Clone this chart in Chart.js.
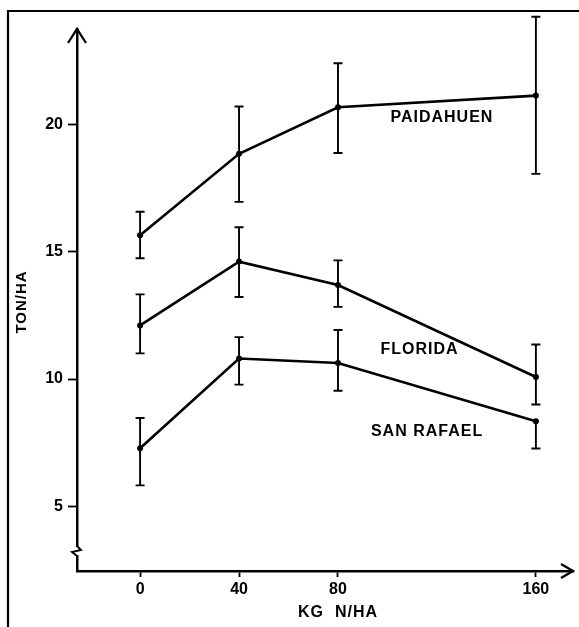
<!DOCTYPE html>
<html>
<head>
<meta charset="utf-8">
<script src="https://cdn.jsdelivr.net/npm/chart.js@4/dist/chart.umd.min.js"></script>
<style>
  body { margin: 0; background: #fff; }
  #wrap { width: 579px; height: 627px; }
</style>
</head>
<body>
<div id="wrap"><canvas id="chart" width="579" height="627"></canvas></div>
<script>
// doses (kg N/ha) and yields (ton/ha)
const doses = [0, 40, 80, 160];
const xTicks = [0, 40, 80, 160];
const yTicks = [5, 10, 15, 20];

const paidahuen = [15.66, 18.86, 20.69, 21.15];
const paidahuenHigh = [16.58, 20.72, 22.42, 24.25];
const paidahuenLow = [14.75, 16.97, 18.89, 18.07];

const florida = [12.11, 14.62, 13.7, 10.08];
const floridaHigh = [13.33, 15.97, 14.67, 11.36];
const floridaLow = [11.01, 13.23, 12.84, 9.0];

const sanRafael = [7.28, 10.81, 10.63, 8.34];
const sanRafaelHigh = [8.47, 11.65, 11.93, 8.34];
const sanRafaelLow = [5.82, 9.78, 9.54, 7.27];

const seriesNames = ["PAIDAHUEN", "FLORIDA", "SAN RAFAEL"];
// where each name is written, in data units
const nameX = [122, 113, 116];
const nameY = [20.27, 11.14, 7.92];

const FONT = "Liberation Sans, Arial, sans-serif";

const toPoints = (vals) => vals.map((v, i) => ({ x: doses[i], y: v }));

const makeSet = (label, vals, hi, lo) => ({
  label,
  data: toPoints(vals),
  hi,
  lo,
  borderColor: "#000",
  backgroundColor: "#000",
  borderWidth: 2.6,
  pointRadius: 3,
  pointBackgroundColor: "#000",
  pointBorderWidth: 0,
  tension: 0,
  clip: false
});

const errorBars = {
  id: "errorBars",
  afterDatasetsDraw(chart) {
    const { ctx, scales: { x, y } } = chart;
    ctx.save();
    ctx.strokeStyle = "#000";
    ctx.lineWidth = 1.9;
    chart.data.datasets.forEach((ds) => {
      ds.data.forEach((p, i) => {
        const px = x.getPixelForValue(p.x);
        const yh = y.getPixelForValue(ds.hi[i]);
        const yl = y.getPixelForValue(ds.lo[i]);
        ctx.beginPath();
        ctx.moveTo(px, yh);
        ctx.lineTo(px, yl);
        if (ds.hi[i] !== p.y) {
          ctx.moveTo(px - 4.5, yh);
          ctx.lineTo(px + 4.5, yh);
        }
        if (ds.lo[i] !== p.y) {
          ctx.moveTo(px - 4.5, yl);
          ctx.lineTo(px + 4.5, yl);
        }
        ctx.stroke();
      });
    });
    ctx.restore();
  }
};

const decorations = {
  id: "decorations",
  afterDraw(chart) {
    const { ctx, chartArea: a, scales: { x, y } } = chart;
    ctx.save();
    ctx.strokeStyle = "#000";
    ctx.fillStyle = "#000";

    // outer frame (left and top)
    ctx.lineWidth = 2.2;
    ctx.beginPath();
    ctx.moveTo(8, 627);
    ctx.lineTo(8, 11);
    ctx.lineTo(579, 11);
    ctx.stroke();

    // arrowheads
    ctx.lineWidth = 2.3;
    ctx.beginPath();
    ctx.moveTo(a.left - 9, a.top + 14);
    ctx.lineTo(a.left, a.top);
    ctx.lineTo(a.left + 9, a.top + 14);
    ctx.moveTo(a.right - 12, a.bottom - 7);
    ctx.lineTo(a.right, a.bottom);
    ctx.lineTo(a.right - 12, a.bottom + 7);
    ctx.stroke();

    // axis break on y
    const by = a.bottom - 20;
    ctx.fillStyle = "#fff";
    ctx.fillRect(a.left - 2, by - 4, 4, 8);
    ctx.lineWidth = 1.9;
    ctx.beginPath();
    ctx.moveTo(a.left, by - 5);
    ctx.lineTo(a.left + 4, by - 1);
    ctx.lineTo(a.left - 5, by + 1);
    ctx.lineTo(a.left, by + 5);
    ctx.stroke();

    // series names and axis titles
    ctx.fillStyle = "#000";
    ctx.font = "bold 16px " + FONT;
    ctx.letterSpacing = "1px";
    ctx.textAlign = "center";
    ctx.textBaseline = "middle";
    seriesNames.forEach((n, i) => {
      ctx.fillText(n, x.getPixelForValue(nameX[i]), y.getPixelForValue(nameY[i]));
    });
    ctx.fillText("KG  N/HA", 338, 613);

    ctx.font = "bold 15px " + FONT;
    ctx.letterSpacing = "1px";
    ctx.translate(22, 302);
    ctx.rotate(-Math.PI / 2);
    ctx.fillText("TON/HA", 0, 0);
    ctx.restore();
  }
};

new Chart(document.getElementById("chart"), {
  type: "line",
  data: {
    datasets: [
      makeSet(seriesNames[0], paidahuen, paidahuenHigh, paidahuenLow),
      makeSet(seriesNames[1], florida, floridaHigh, floridaLow),
      makeSet(seriesNames[2], sanRafael, sanRafaelHigh, sanRafaelLow)
    ]
  },
  options: {
    responsive: false,
    animation: false,
    events: [],
    layout: { padding: { top: 29, right: 6, left: 0, bottom: 0 } },
    plugins: {
      legend: { display: false },
      tooltip: { enabled: false }
    },
    scales: {
      x: {
        type: "linear",
        min: -25.5,
        max: 175,
        afterFit: (s) => { s.height = 56; },
        afterBuildTicks: (s) => { s.ticks = xTicks.map((v) => ({ value: v })); },
        border: { display: true, color: "#000", width: 2.5 },
        grid: { drawOnChartArea: false, drawTicks: true, tickLength: 6, tickColor: "#000", tickWidth: 1.8 },
        ticks: { color: "#000", padding: 3, maxRotation: 0, font: { family: FONT, size: 16, weight: "bold" } }
      },
      y: {
        type: "linear",
        min: 2.45,
        max: 23.77,
        afterFit: (s) => { s.width = 77; },
        afterBuildTicks: (s) => { s.ticks = yTicks.map((v) => ({ value: v })); },
        border: { display: true, color: "#000", width: 2.5 },
        grid: { drawOnChartArea: false, drawTicks: true, tickLength: 9, tickColor: "#000", tickWidth: 1.8 },
        ticks: { color: "#000", padding: 5, font: { family: FONT, size: 16, weight: "bold" } }
      }
    }
  },
  plugins: [errorBars, decorations]
});
</script>
</body>
</html>
